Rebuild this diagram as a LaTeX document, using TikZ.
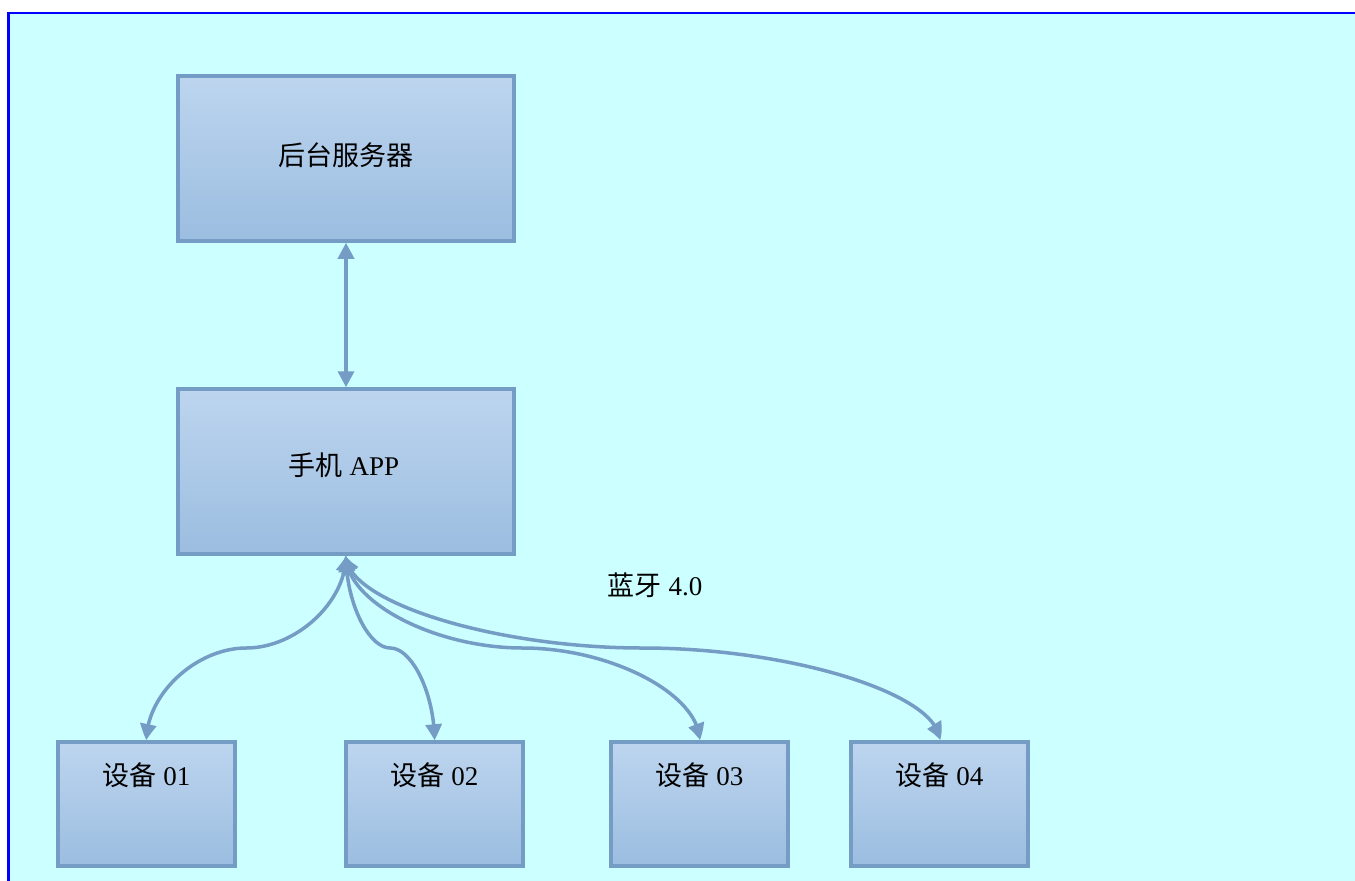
\documentclass[tikz,border=0pt]{standalone}
\usepackage{fontspec}
\setmainfont{Liberation Serif}
\newfontfamily\cjk{Noto Sans CJK SC}
\usetikzlibrary{arrows.meta,bending,calc}
\definecolor{bgcyan}{RGB}{204,255,255}
\definecolor{frameblue}{RGB}{0,0,255}
\definecolor{boxtop}{RGB}{189,213,239}
\definecolor{boxbot}{RGB}{155,189,224}
\definecolor{edgecol}{RGB}{116,156,196}
\begin{document}
\begin{tikzpicture}[x=1pt,y=-1pt,
  bigbox/.style={draw=edgecol,line width=3.5pt,top color=boxtop,bottom color=boxbot,
    minimum width=336pt,minimum height=165pt,inner sep=0pt},
  devbox/.style={draw=edgecol,line width=3.5pt,top color=boxtop,bottom color=boxbot,
    minimum width=177pt,minimum height=124pt,inner sep=0pt},
  lbl/.style={font=\fontsize{27}{32}\selectfont,inner sep=0pt},
  conn/.style={draw=edgecol,line width=3.5pt,
    arrows={Triangle[length=16pt,width=16pt,bend]-Triangle[length=16pt,width=16pt,bend]}}]
\useasboundingbox (0,0) rectangle (1355,881);
\clip (0,0) rectangle (1355,881);
\fill[white] (0,0) rectangle (1355,881);
\draw[frameblue,line width=2.5pt,fill=bgcyan] (8.5,12.8) rectangle (1380,900);

\node[bigbox] (srv) at (346,158.5) {};
\node[bigbox] (app) at (346,471.5) {};
\node[devbox] (d1) at (146.5,804) {};
\node[devbox] (d2) at (434.5,804) {};
\node[devbox] (d3) at (699.5,804) {};
\node[devbox] (d4) at (939.5,804) {};

\node[lbl] (tsrv) at (346,155) {\cjk 后台服务器};
\node[lbl] (tapp) at (344,465) {{\cjk 手机} APP};
\node[lbl] (t1) at (146.5,775) {{\cjk 设备} 01};
\node[lbl] (t2) at (434.5,775) {{\cjk 设备} 02};
\node[lbl] (t3) at (699.5,775) {{\cjk 设备} 03};
\node[lbl] (t4) at (939.5,775) {{\cjk 设备} 04};
\node[lbl] (tbt) at (655,585) {{\cjk 蓝牙} 4.0};

\draw[conn] (srv.south) -- (app.north);

\coordinate (m1) at ($(app.south)!0.5!(d1.north)$);
\coordinate (m2) at ($(app.south)!0.5!(d2.north)$);
\coordinate (m3) at ($(app.south)!0.5!(d3.north)$);
\coordinate (m4) at ($(app.south)!0.5!(d4.north)$);

\draw[conn] (app.south) .. controls +(0,46) and +(50,0) .. (m1)
  .. controls +(-50,0) and +(0,-46) .. (d1.north);
\draw[conn] (app.south) .. controls +(0,46) and +(-22,0) .. (m2)
  .. controls +(22,0) and +(0,-46) .. (d2.north);
\draw[conn] (app.south) .. controls +(0,46) and +(-88,0) .. (m3)
  .. controls +(88,0) and +(0,-46) .. (d3.north);
\draw[conn] (app.south) .. controls +(0,46) and +(-148,0) .. (m4)
  .. controls +(148,0) and +(0,-46) .. (d4.north);
\end{tikzpicture}
\end{document}
